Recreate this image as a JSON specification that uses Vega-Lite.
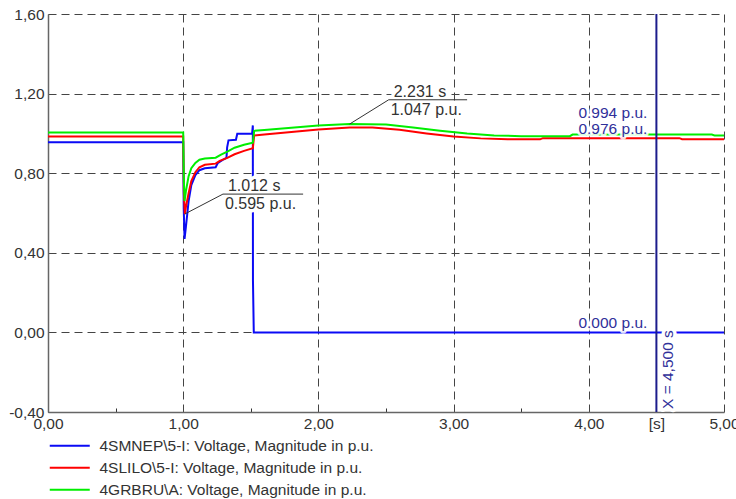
{
  "$schema": "https://vega.github.io/schema/vega-lite/v6.json",
  "width": 676,
  "height": 398,
  "autosize": {"type": "none"},
  "padding": {"left": 48, "top": 14, "right": 12, "bottom": 87},
  "background": "white",
  "config": {
    "view": {"stroke": null},
    "font": "Liberation Sans",
    "text": {"font": "Liberation Sans", "fontSize": 15.5}
  },
  "datasets": {
    "curves": [
      {"s": "4SMNEP\\5-I: Voltage, Magnitude in p.u.", "t": 0, "v": 0.955},
      {"s": "4SMNEP\\5-I: Voltage, Magnitude in p.u.", "t": 1.0, "v": 0.955},
      {"s": "4SMNEP\\5-I: Voltage, Magnitude in p.u.", "t": 1.004, "v": 0.62},
      {"s": "4SMNEP\\5-I: Voltage, Magnitude in p.u.", "t": 1.01, "v": 0.47},
      {"s": "4SMNEP\\5-I: Voltage, Magnitude in p.u.", "t": 1.02, "v": 0.53},
      {"s": "4SMNEP\\5-I: Voltage, Magnitude in p.u.", "t": 1.04, "v": 0.66},
      {"s": "4SMNEP\\5-I: Voltage, Magnitude in p.u.", "t": 1.06, "v": 0.74},
      {"s": "4SMNEP\\5-I: Voltage, Magnitude in p.u.", "t": 1.09, "v": 0.79},
      {"s": "4SMNEP\\5-I: Voltage, Magnitude in p.u.", "t": 1.12, "v": 0.815},
      {"s": "4SMNEP\\5-I: Voltage, Magnitude in p.u.", "t": 1.16, "v": 0.825},
      {"s": "4SMNEP\\5-I: Voltage, Magnitude in p.u.", "t": 1.24, "v": 0.83},
      {"s": "4SMNEP\\5-I: Voltage, Magnitude in p.u.", "t": 1.255, "v": 0.85},
      {"s": "4SMNEP\\5-I: Voltage, Magnitude in p.u.", "t": 1.3, "v": 0.87},
      {"s": "4SMNEP\\5-I: Voltage, Magnitude in p.u.", "t": 1.32, "v": 0.877},
      {"s": "4SMNEP\\5-I: Voltage, Magnitude in p.u.", "t": 1.325, "v": 0.93},
      {"s": "4SMNEP\\5-I: Voltage, Magnitude in p.u.", "t": 1.335, "v": 0.965},
      {"s": "4SMNEP\\5-I: Voltage, Magnitude in p.u.", "t": 1.39, "v": 0.968},
      {"s": "4SMNEP\\5-I: Voltage, Magnitude in p.u.", "t": 1.4, "v": 0.998},
      {"s": "4SMNEP\\5-I: Voltage, Magnitude in p.u.", "t": 1.51, "v": 1.0},
      {"s": "4SMNEP\\5-I: Voltage, Magnitude in p.u.", "t": 1.515, "v": 1.04},
      {"s": "4SMNEP\\5-I: Voltage, Magnitude in p.u.", "t": 1.516, "v": 0.26},
      {"s": "4SMNEP\\5-I: Voltage, Magnitude in p.u.", "t": 1.522, "v": 0.0},
      {"s": "4SMNEP\\5-I: Voltage, Magnitude in p.u.", "t": 4.5, "v": 0.0},
      {"s": "4SMNEP\\5-I: Voltage, Magnitude in p.u.", "t": 5.0, "v": 0.0},
      {"s": "4SLILO\\5-I: Voltage, Magnitude in p.u.", "t": 0, "v": 0.985},
      {"s": "4SLILO\\5-I: Voltage, Magnitude in p.u.", "t": 1.0, "v": 0.985},
      {"s": "4SLILO\\5-I: Voltage, Magnitude in p.u.", "t": 1.005, "v": 0.7},
      {"s": "4SLILO\\5-I: Voltage, Magnitude in p.u.", "t": 1.012, "v": 0.595},
      {"s": "4SLILO\\5-I: Voltage, Magnitude in p.u.", "t": 1.02, "v": 0.63},
      {"s": "4SLILO\\5-I: Voltage, Magnitude in p.u.", "t": 1.04, "v": 0.7},
      {"s": "4SLILO\\5-I: Voltage, Magnitude in p.u.", "t": 1.06, "v": 0.76},
      {"s": "4SLILO\\5-I: Voltage, Magnitude in p.u.", "t": 1.09, "v": 0.805},
      {"s": "4SLILO\\5-I: Voltage, Magnitude in p.u.", "t": 1.12, "v": 0.83},
      {"s": "4SLILO\\5-I: Voltage, Magnitude in p.u.", "t": 1.16, "v": 0.842},
      {"s": "4SLILO\\5-I: Voltage, Magnitude in p.u.", "t": 1.24, "v": 0.848},
      {"s": "4SLILO\\5-I: Voltage, Magnitude in p.u.", "t": 1.27, "v": 0.862},
      {"s": "4SLILO\\5-I: Voltage, Magnitude in p.u.", "t": 1.33, "v": 0.878},
      {"s": "4SLILO\\5-I: Voltage, Magnitude in p.u.", "t": 1.38, "v": 0.895},
      {"s": "4SLILO\\5-I: Voltage, Magnitude in p.u.", "t": 1.45, "v": 0.912},
      {"s": "4SLILO\\5-I: Voltage, Magnitude in p.u.", "t": 1.515, "v": 0.925},
      {"s": "4SLILO\\5-I: Voltage, Magnitude in p.u.", "t": 1.525, "v": 0.99},
      {"s": "4SLILO\\5-I: Voltage, Magnitude in p.u.", "t": 1.6, "v": 0.995},
      {"s": "4SLILO\\5-I: Voltage, Magnitude in p.u.", "t": 1.8, "v": 1.007},
      {"s": "4SLILO\\5-I: Voltage, Magnitude in p.u.", "t": 2.0, "v": 1.02},
      {"s": "4SLILO\\5-I: Voltage, Magnitude in p.u.", "t": 2.231, "v": 1.03},
      {"s": "4SLILO\\5-I: Voltage, Magnitude in p.u.", "t": 2.4, "v": 1.03},
      {"s": "4SLILO\\5-I: Voltage, Magnitude in p.u.", "t": 2.6, "v": 1.018},
      {"s": "4SLILO\\5-I: Voltage, Magnitude in p.u.", "t": 2.8, "v": 1.0},
      {"s": "4SLILO\\5-I: Voltage, Magnitude in p.u.", "t": 3.0, "v": 0.985},
      {"s": "4SLILO\\5-I: Voltage, Magnitude in p.u.", "t": 3.2, "v": 0.975},
      {"s": "4SLILO\\5-I: Voltage, Magnitude in p.u.", "t": 3.4, "v": 0.971},
      {"s": "4SLILO\\5-I: Voltage, Magnitude in p.u.", "t": 3.64, "v": 0.97},
      {"s": "4SLILO\\5-I: Voltage, Magnitude in p.u.", "t": 3.66, "v": 0.976},
      {"s": "4SLILO\\5-I: Voltage, Magnitude in p.u.", "t": 4.5, "v": 0.976},
      {"s": "4SLILO\\5-I: Voltage, Magnitude in p.u.", "t": 4.67, "v": 0.976},
      {"s": "4SLILO\\5-I: Voltage, Magnitude in p.u.", "t": 4.69, "v": 0.971},
      {"s": "4SLILO\\5-I: Voltage, Magnitude in p.u.", "t": 5.0, "v": 0.971},
      {"s": "4GRBRU\\A: Voltage, Magnitude in p.u.", "t": 0, "v": 1.005},
      {"s": "4GRBRU\\A: Voltage, Magnitude in p.u.", "t": 1.0, "v": 1.005},
      {"s": "4GRBRU\\A: Voltage, Magnitude in p.u.", "t": 1.005, "v": 0.76},
      {"s": "4GRBRU\\A: Voltage, Magnitude in p.u.", "t": 1.01, "v": 0.66},
      {"s": "4GRBRU\\A: Voltage, Magnitude in p.u.", "t": 1.02, "v": 0.71},
      {"s": "4GRBRU\\A: Voltage, Magnitude in p.u.", "t": 1.04, "v": 0.785},
      {"s": "4GRBRU\\A: Voltage, Magnitude in p.u.", "t": 1.06, "v": 0.825},
      {"s": "4GRBRU\\A: Voltage, Magnitude in p.u.", "t": 1.09, "v": 0.852},
      {"s": "4GRBRU\\A: Voltage, Magnitude in p.u.", "t": 1.12, "v": 0.868},
      {"s": "4GRBRU\\A: Voltage, Magnitude in p.u.", "t": 1.16, "v": 0.874},
      {"s": "4GRBRU\\A: Voltage, Magnitude in p.u.", "t": 1.24, "v": 0.878},
      {"s": "4GRBRU\\A: Voltage, Magnitude in p.u.", "t": 1.28, "v": 0.893},
      {"s": "4GRBRU\\A: Voltage, Magnitude in p.u.", "t": 1.33, "v": 0.91},
      {"s": "4GRBRU\\A: Voltage, Magnitude in p.u.", "t": 1.38, "v": 0.928},
      {"s": "4GRBRU\\A: Voltage, Magnitude in p.u.", "t": 1.45, "v": 0.943},
      {"s": "4GRBRU\\A: Voltage, Magnitude in p.u.", "t": 1.515, "v": 0.953},
      {"s": "4GRBRU\\A: Voltage, Magnitude in p.u.", "t": 1.525, "v": 1.013},
      {"s": "4GRBRU\\A: Voltage, Magnitude in p.u.", "t": 1.6, "v": 1.017},
      {"s": "4GRBRU\\A: Voltage, Magnitude in p.u.", "t": 1.8, "v": 1.028},
      {"s": "4GRBRU\\A: Voltage, Magnitude in p.u.", "t": 2.0, "v": 1.04},
      {"s": "4GRBRU\\A: Voltage, Magnitude in p.u.", "t": 2.231, "v": 1.047},
      {"s": "4GRBRU\\A: Voltage, Magnitude in p.u.", "t": 2.5, "v": 1.045},
      {"s": "4GRBRU\\A: Voltage, Magnitude in p.u.", "t": 2.7, "v": 1.03},
      {"s": "4GRBRU\\A: Voltage, Magnitude in p.u.", "t": 2.9, "v": 1.013},
      {"s": "4GRBRU\\A: Voltage, Magnitude in p.u.", "t": 3.1, "v": 0.999},
      {"s": "4GRBRU\\A: Voltage, Magnitude in p.u.", "t": 3.3, "v": 0.99},
      {"s": "4GRBRU\\A: Voltage, Magnitude in p.u.", "t": 3.5, "v": 0.986},
      {"s": "4GRBRU\\A: Voltage, Magnitude in p.u.", "t": 3.86, "v": 0.986},
      {"s": "4GRBRU\\A: Voltage, Magnitude in p.u.", "t": 3.88, "v": 0.994},
      {"s": "4GRBRU\\A: Voltage, Magnitude in p.u.", "t": 4.5, "v": 0.994},
      {"s": "4GRBRU\\A: Voltage, Magnitude in p.u.", "t": 4.91, "v": 0.994},
      {"s": "4GRBRU\\A: Voltage, Magnitude in p.u.", "t": 4.93, "v": 0.99},
      {"s": "4GRBRU\\A: Voltage, Magnitude in p.u.", "t": 5.0, "v": 0.99}
    ],
    "callouts": [
      {"t": 1.012, "v": 0.595, "lt": 1.294, "lv": 0.695, "le": 1.887},
      {"t": 2.231, "v": 1.047, "lt": 2.52, "lv": 1.169, "le": 3.1}
    ],
    "cursor": [{"t": 4.5}]
  },
  "layer": [
    {
      "data": {"name": "curves"},
      "mark": {"type": "line", "strokeWidth": 2, "interpolate": "linear"},
      "encoding": {
        "x": {
          "field": "t", "type": "quantitative",
          "scale": {"domain": [0, 5], "nice": false, "zero": false},
          "axis": {
            "title": null,
            "values": [0, 0.5, 1, 1.5, 2, 2.5, 3, 3.5, 4, 4.5, 5],
            "labelExpr": "datum.value == 4.5 ? '[s]' : (datum.value % 1 == 0 ? replace(format(datum.value, '.2f'), '.', ',') : '')",
            "labelOverlap": false, "labelFlush": false, "labelBound": false,
            "labelFont": "Liberation Sans", "labelFontSize": 15.5, "labelColor": "#333",
            "labelPadding": 8,
            "grid": true, "gridDash": [8, 5], "gridColor": "#444", "gridWidth": 1,
            "gridOpacity": {"condition": {"test": "datum.value % 1 == 0", "value": 1}, "value": 0},
            "tickSize": -4, "tickColor": "#333",
            "tickOpacity": {"condition": {"test": "datum.value % 1 == 0", "value": 0}, "value": 1},
            "domainColor": "#666", "domainWidth": 1.5
          }
        },
        "y": {
          "field": "v", "type": "quantitative",
          "scale": {"domain": [-0.4, 1.6], "nice": false, "zero": false},
          "axis": {
            "title": null,
            "values": [-0.4, -0.2, 0, 0.2, 0.4, 0.6, 0.8, 1, 1.2, 1.4, 1.6],
            "labelExpr": "round(datum.value * 5) % 2 == 0 ? replace(replace(format(datum.value, '.2f'), '.', ','), '\u2212', '-') : ''",
            "labelOverlap": false, "labelFlush": false, "labelBound": false,
            "labelFont": "Liberation Sans", "labelFontSize": 15.5, "labelColor": "#333",
            "labelPadding": 8,
            "grid": true, "gridDash": [8, 5], "gridColor": "#444", "gridWidth": 1,
            "gridOpacity": {"condition": {"test": "round(datum.value * 5) % 2 == 0", "value": 1}, "value": 0},
            "tickSize": -4, "tickColor": "#333",
            "tickOpacity": {"condition": {"test": "round(datum.value * 5) % 2 == 0", "value": 0}, "value": 1},
            "domainColor": "#666", "domainWidth": 1.5
          }
        },
        "color": {
          "field": "s", "type": "nominal",
          "scale": {
            "domain": [
              "4SMNEP\\5-I: Voltage, Magnitude in p.u.",
              "4SLILO\\5-I: Voltage, Magnitude in p.u.",
              "4GRBRU\\A: Voltage, Magnitude in p.u."
            ],
            "range": ["#0a0af5", "#ff0000", "#00ee00"]
          },
          "legend": {
            "title": null, "orient": "none", "legendX": 14, "legendY": 424,
            "direction": "vertical", "padding": 0,
            "symbolType": "M-4,0H4", "symbolSize": 100, "symbolStrokeWidth": 2,
            "labelFont": "Liberation Sans", "labelFontSize": 15.5, "labelColor": "#333",
            "labelOffset": 22, "labelLimit": 500, "rowPadding": 5
          }
        }
      }
    },
    {
      "data": {"name": "cursor"},
      "mark": {"type": "rule", "color": "#1c1c8c", "strokeWidth": 2},
      "encoding": {"x": {"field": "t", "type": "quantitative", "title": null}}
    },
    {
      "data": {"name": "curves"},
      "transform": [
        {"filter": "datum.t == 4.5 && indexof(datum.s, '4GRBRU') < 0"},
        {"calculate": "format(datum.v, '.3f') + ' p.u.'", "as": "lab"}
      ],
      "encoding": {
        "x": {"field": "t", "type": "quantitative", "title": null},
        "y": {"field": "v", "type": "quantitative", "title": null},
        "text": {"field": "lab"}
      },
      "layer": [
        {"mark": {"type": "text", "align": "right", "baseline": "alphabetic", "dx": -9, "dy": -4, "stroke": "white", "strokeWidth": 5, "strokeOpacity": 0.85, "strokeJoin": "round", "fill": "white"}},
        {"mark": {"type": "text", "align": "right", "baseline": "alphabetic", "dx": -9, "dy": -4, "color": "#30309a"}}
      ]
    },
    {
      "data": {"name": "curves"},
      "transform": [
        {"filter": "datum.t == 4.5 && indexof(datum.s, '4GRBRU') >= 0"},
        {"calculate": "format(datum.v, '.3f') + ' p.u.'", "as": "lab"}
      ],
      "encoding": {
        "x": {"field": "t", "type": "quantitative", "title": null},
        "y": {"field": "v", "type": "quantitative", "title": null},
        "text": {"field": "lab"}
      },
      "layer": [
        {"mark": {"type": "text", "align": "right", "baseline": "alphabetic", "dx": -9, "dy": -17, "stroke": "white", "strokeWidth": 5, "strokeJoin": "round", "fill": "white"}},
        {"mark": {"type": "text", "align": "right", "baseline": "alphabetic", "dx": -9, "dy": -17, "color": "#30309a"}}
      ]
    },
    {
      "data": {"name": "cursor"},
      "transform": [
        {"calculate": "'X = ' + replace(format(datum.t, '.3f'), '.', ',') + ' s'", "as": "lab"},
        {"calculate": "-0.4", "as": "ybase"}
      ],
      "encoding": {
        "x": {"field": "t", "type": "quantitative", "title": null},
        "y": {"field": "ybase", "type": "quantitative", "title": null},
        "text": {"field": "lab"}
      },
      "layer": [
        {"mark": {"type": "text", "angle": 270, "align": "left", "baseline": "middle", "dx": 3, "dy": 12, "stroke": "white", "strokeWidth": 7, "strokeJoin": "round", "fill": "white"}},
        {"mark": {"type": "text", "angle": 270, "align": "left", "baseline": "middle", "dx": 3, "dy": 12, "color": "#30309a"}}
      ]
    },
    {
      "data": {"name": "callouts"},
      "mark": {"type": "rule", "color": "#333", "strokeWidth": 1},
      "encoding": {
        "x": {"field": "t", "type": "quantitative", "title": null},
        "y": {"field": "v", "type": "quantitative", "title": null},
        "x2": {"field": "lt"},
        "y2": {"field": "lv"}
      }
    },
    {
      "data": {"name": "callouts"},
      "transform": [{"calculate": "format(datum.t, '.3f') + ' s'", "as": "lab"}],
      "encoding": {
        "x": {"field": "lt", "type": "quantitative", "title": null},
        "y": {"field": "lv", "type": "quantitative", "title": null},
        "text": {"field": "lab"}
      },
      "layer": [
        {"mark": {"type": "text", "align": "left", "baseline": "alphabetic", "dx": 5, "dy": -3, "fontSize": 16, "stroke": "white", "strokeWidth": 7, "strokeJoin": "round", "fill": "white"}},
        {"mark": {"type": "text", "align": "left", "baseline": "alphabetic", "dx": 5, "dy": -3, "fontSize": 16, "color": "#333"}}
      ]
    },
    {
      "data": {"name": "callouts"},
      "transform": [{"calculate": "format(datum.v, '.3f') + ' p.u.'", "as": "lab"}],
      "encoding": {
        "x": {"field": "lt", "type": "quantitative", "title": null},
        "y": {"field": "lv", "type": "quantitative", "title": null},
        "text": {"field": "lab"}
      },
      "layer": [
        {"mark": {"type": "text", "align": "left", "baseline": "top", "dx": 2, "dy": 2, "fontSize": 16, "stroke": "white", "strokeWidth": 7, "strokeJoin": "round", "fill": "white"}},
        {"mark": {"type": "text", "align": "left", "baseline": "top", "dx": 2, "dy": 2, "fontSize": 16, "color": "#333"}}
      ]
    },
    {
      "data": {"name": "callouts"},
      "mark": {"type": "rule", "color": "#333", "strokeWidth": 1},
      "encoding": {
        "x": {"field": "lt", "type": "quantitative", "title": null},
        "x2": {"field": "le"},
        "y": {"field": "lv", "type": "quantitative", "title": null}
      }
    }
  ]
}
